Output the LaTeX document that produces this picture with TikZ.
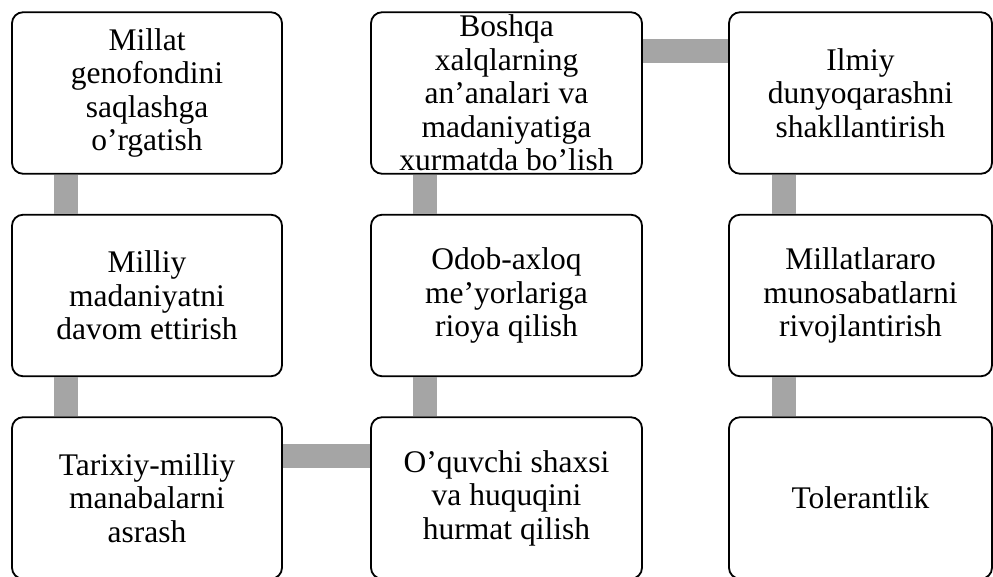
\documentclass[tikz,border=0pt]{standalone}
\usepackage{fontspec}
\setmainfont{Liberation Serif}
\usetikzlibrary{calc}
\definecolor{bargray}{HTML}{A5A5A5}
\tikzset{
  boxnode/.style={draw=black, line width=1.8pt, rounded corners=11pt, fill=white,
    inner sep=0pt, align=center, minimum height=161.5pt,
    font=\fontsize{31.5}{33.5}\selectfont},
  colA/.style={boxnode, minimum width=270pt},
  colB/.style={boxnode, minimum width=271pt},
  colC/.style={boxnode, minimum width=263pt},
  bar/.style={draw=bargray, line width=24pt, line cap=butt}
}
\begin{document}
\begin{tikzpicture}[x=1pt,y=-1pt]
\useasboundingbox (0,0) rectangle (993,577);
% column A
\node[colA] (a1) at (147,93) {Millat\\genofondini\\saqlashga\\o’rgatish};
\node[colA] (a2) at (147,295.5) {Milliy\\madaniyatni\\davom ettirish};
\node[colA] (a3) at (147,498) {Tarixiy-milliy\\manabalarni\\asrash};
% column B
\node[colB] (b1) at (506.5,93) {Boshqa\\xalqlarning\\an’analari va\\madaniyatiga\\xurmatda bo’lish};
\node[colB] (b2) at (506.5,295.5) {Odob-axloq\\me’yorlariga\\rioya qilish};
\node[colB] (b3) at (506.5,498) {O’quvchi shaxsi\\va huquqini\\hurmat qilish};
% column C
\node[colC] (c1) at (860.5,93) {Ilmiy\\dunyoqarashni\\shakllantirish};
\node[colC] (c2) at (860.5,295.5) {Millatlararo\\munosabatlarni\\rivojlantirish};
\node[colC] (c3) at (860.5,498) {Tolerantlik};
% connectors
\draw[bar] ($(a1.south west)+(54.5,0)$) -- ($(a2.north west)+(54.5,0)$);
\draw[bar] ($(a2.south west)+(54.5,0)$) -- ($(a3.north west)+(54.5,0)$);
\draw[bar] ($(a3.north east)+(0,40)$) -- ($(b3.north west)+(0,40)$);
\draw[bar] ($(b3.north west)+(55,0)$) -- ($(b2.south west)+(55,0)$);
\draw[bar] ($(b2.north west)+(55,0)$) -- ($(b1.south west)+(55,0)$);
\draw[bar] ($(b1.north east)+(0,39.5)$) -- ($(c1.north west)+(0,39.5)$);
\draw[bar] ($(c1.south west)+(56,0)$) -- ($(c2.north west)+(56,0)$);
\draw[bar] ($(c2.south west)+(56,0)$) -- ($(c3.north west)+(56,0)$);
\end{tikzpicture}
\end{document}
